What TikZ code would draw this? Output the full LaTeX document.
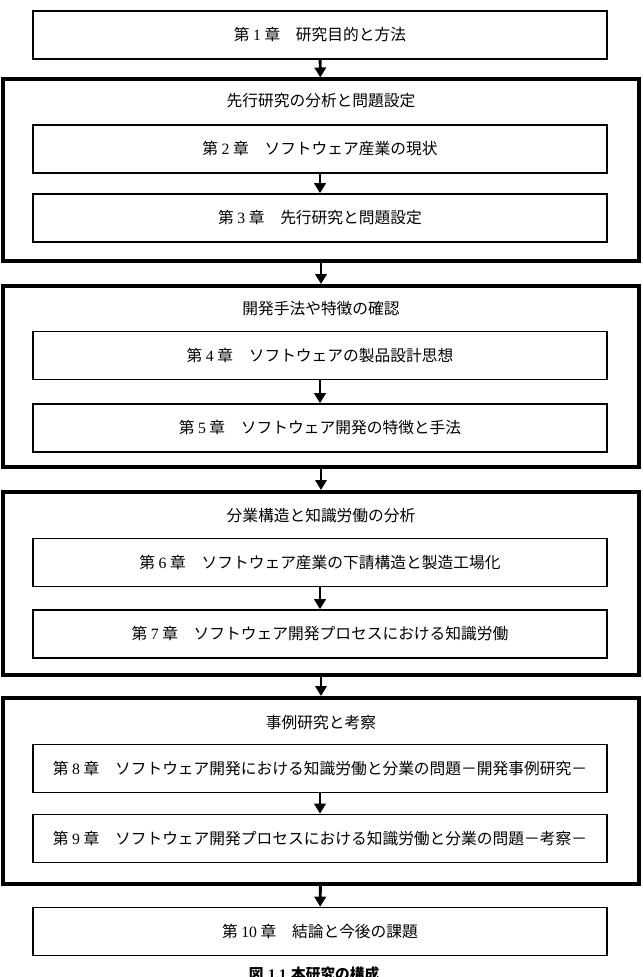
\documentclass[tikz,border=0pt]{standalone}
\usepackage{fontspec}
\setmainfont{Liberation Serif}
\newfontfamily\jp{Noto Sans CJK JP}
\usepackage{tikz}
\usetikzlibrary{arrows.meta}

\begin{document}
\begin{tikzpicture}[
    x=0.75pt, y=-0.75pt,
    chapbox/.style={draw, line width=1.2pt, minimum width=430.5pt, minimum height=36pt, inner sep=0pt, fill=white, font=\jp\fontsize{11.8}{14}\selectfont},
    partbox/.style={draw, line width=3pt, minimum width=477pt, inner sep=0pt},
    parttitle/.style={inner sep=0pt, font=\jp\fontsize{11.8}{14}\selectfont},
    flow/.style={-{Triangle[width=8.5pt,length=7.5pt]}, line width=2.2pt}
]
\useasboundingbox (0,0) rectangle (642,977);
\node (c1) [chapbox] at (320, 35) {第 {\rmfamily 1} 章　研究目的と方法};

\node (g1) [partbox, minimum height=135.75pt] at (321, 170) {};
\node (t1) [parttitle] at (321, 101) {先行研究の分析と問題設定};
\node (c2) [chapbox] at (320, 149) {第 {\rmfamily 2} 章　ソフトウェア産業の現状};
\node (c3) [chapbox] at (320, 218) {第 {\rmfamily 3} 章　先行研究と問題設定};

\node (g2) [partbox, minimum height=135.75pt] at (321, 376.5) {};
\node (t2) [parttitle] at (321, 309) {開発手法や特徴の確認};
\node (c4) [chapbox] at (320, 355.5) {第 {\rmfamily 4} 章　ソフトウェアの製品設計思想};
\node (c5) [chapbox] at (320, 428) {第 {\rmfamily 5} 章　ソフトウェア開発の特徴と手法};

\node (g3) [partbox, minimum height=137.25pt] at (321, 583.5) {};
\node (t3) [parttitle] at (321, 516) {分業構造と知識労働の分析};
\node (c6) [chapbox] at (320, 562.5) {第 {\rmfamily 6} 章　ソフトウェア産業の下請構造と製造工場化};
\node (c7) [chapbox] at (320, 634) {第 {\rmfamily 7} 章　ソフトウェア開発プロセスにおける知識労働};

\node (g4) [partbox, minimum height=139.5pt] at (321, 791) {};
\node (t4) [parttitle] at (321, 723) {事例研究と考察};
\node (c8) [chapbox] at (320, 768.5) {第 {\rmfamily 8} 章　ソフトウェア開発における知識労働と分業の問題－開発事例研究－};
\node (c9) [chapbox] at (320, 838.5) {第 {\rmfamily 9} 章　ソフトウェア開発プロセスにおける知識労働と分業の問題－考察－};

\node (c10) [chapbox] at (320, 931.5) {第 {\rmfamily 10} 章　結論と今後の課題};
\node (cap) [anchor=base, inner sep=0pt, font=\jp\bfseries\fontsize{11}{13}\selectfont] at (314, 979) {図\hspace{3.5pt}{\rmfamily\bfseries 1.1}\hspace{3.5pt}本研究の構成};

\draw[flow] (c1) -- (g1);
\draw[flow] (c2) -- (c3);
\draw[flow] (g1) -- (g2);
\draw[flow] (c4) -- (c5);
\draw[flow] (g2) -- (g3);
\draw[flow] (c6) -- (c7);
\draw[flow] (g3) -- (g4);
\draw[flow] (c8) -- (c9);
\draw[flow] (g4) -- (c10);
\end{tikzpicture}
\end{document}
